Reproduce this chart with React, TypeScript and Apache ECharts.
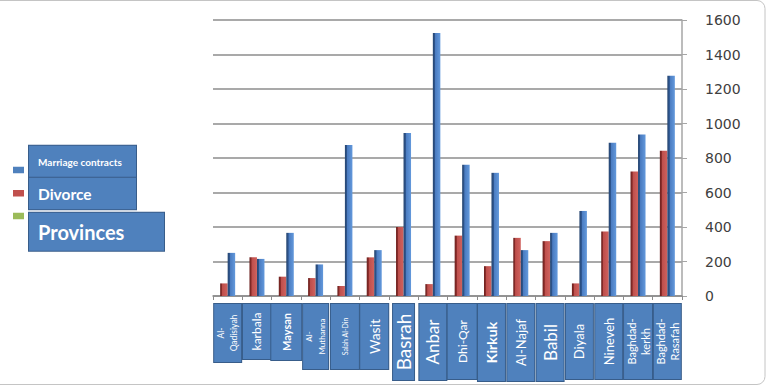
import React, { useEffect, useRef } from 'react';
import * as echarts from 'echarts';

// ---- data ----
const categories = [
  'Al-Qadisiyah', 'karbala', 'Maysan', 'Al-Muthanna', 'Salah Al-Din', 'Wasit', 'Basrah', 'Anbar',
  'Dhi-Qar', 'Kirkuk', 'Al-Najaf', 'Babil', 'Diyala', 'Nineveh', 'Baghdad-kerkh', 'Baghdad-Rasafah',
];
const marriageContracts = [250, 215, 366, 183, 876, 266, 945, 1525, 761, 714, 266, 366, 493, 888, 936, 1277];
const divorce = [73, 224, 112, 104, 58, 224, 400, 69, 350, 173, 337, 318, 73, 374, 722, 842];
const provinces = [0, 0, 0, 0, 0, 0, 0, 0, 0, 0, 0, 0, 0, 0, 0, 0];
const legendNames = ['Marriage contracts', 'Divorce', 'Provinces'];
const yMin = 0;
const yMax = 1600;
const yStep = 200;

// ---- styles ----
const FONT = 'Lato, "Noto Sans", sans-serif';
const BOX_FILL = '#4f81bd';
const BOX_BORDER = '#385d8a';
const GRID_COLOR = '#8c8c8c';

// per-category label box: len (along text), thick (across), font size, bold, wrap after hyphen
const labelBoxes = [
  { len: 58, thick: 27, size: 8.5, bold: false, wrap: true },
  { len: 55, thick: 28, size: 12, bold: false, wrap: false },
  { len: 56, thick: 30, size: 11, bold: true, wrap: false },
  { len: 65, thick: 25, size: 8, bold: false, wrap: true },
  { len: 65, thick: 28, size: 7, bold: false, wrap: false },
  { len: 65, thick: 28, size: 14, bold: false, wrap: false },
  { len: 76, thick: 21, size: 19, bold: false, wrap: false },
  { len: 76, thick: 27, size: 17, bold: false, wrap: false },
  { len: 75, thick: 29, size: 12, bold: false, wrap: false },
  { len: 77, thick: 27, size: 14, bold: true, wrap: false },
  { len: 77, thick: 27, size: 13, bold: false, wrap: false },
  { len: 77, thick: 27, size: 17, bold: false, wrap: false },
  { len: 75, thick: 27, size: 13, bold: false, wrap: false },
  { len: 75, thick: 27, size: 13, bold: false, wrap: false },
  { len: 75, thick: 28, size: 11, bold: false, wrap: true },
  { len: 75, thick: 27, size: 11, bold: false, wrap: true },
];

const legendLayout = [
  { top: 141.7, swatchY: 25, color: '#4f81bd', fontSize: 10, width: 98, lineHeight: 32, padding: [0, 0, 0, 9] },
  { top: 173.5, swatchY: 16.5, color: '#c0504d', fontSize: 15.5, width: 98, lineHeight: 31.6, padding: [0, 0, 0, 9] },
  { top: 211.7, swatchY: 1, color: '#9bbb59', fontSize: 20, width: 126, lineHeight: 24, padding: [0, 0, 14, 9] },
];

const iconPath = (y: number) =>
  `path://M0 0L0.01 0L0 0.01Z M11 40L10.99 40L11 39.99Z M0 ${y}L11 ${y}L11 ${y + 6.5}L0 ${y + 6.5}Z`;

const blueGrad = new echarts.graphic.LinearGradient(0, 0, 1, 0, [
  { offset: 0, color: '#26456f' },
  { offset: 0.28, color: '#2f5791' },
  { offset: 0.33, color: '#4a7bc0' },
  { offset: 1, color: '#6399dc' },
]);
const redGrad = new echarts.graphic.LinearGradient(0, 0, 1, 0, [
  { offset: 0, color: '#6a201e' },
  { offset: 0.25, color: '#8e2f2c' },
  { offset: 0.3, color: '#bd4e4b' },
  { offset: 1, color: '#d0625e' },
]);

export default function App() {
  const ref = useRef<HTMLDivElement>(null);
  useEffect(() => {
    if (!ref.current) return;
    const chart = echarts.init(ref.current, null, { renderer: 'svg' });

    const rich: Record<string, any> = {};
    labelBoxes.forEach((b, i) => {
      rich['b' + i] = {
        width: b.len,
        lineHeight: b.wrap ? b.thick / 2 : b.thick,
        fontSize: b.size,
        fontWeight: b.bold ? 'bold' : 'normal',
        fontFamily: FONT,
        color: '#ffffff',
        align: 'center',
      };
    });

    const legends = legendNames.map((name, i) => {
      const l = legendLayout[i];
      return {
        orient: 'vertical',
        left: 13,
        top: l.top,
        padding: 0,
        itemWidth: 11,
        itemHeight: 40,
        selectedMode: false,
        icon: iconPath(l.swatchY),
        itemStyle: { borderWidth: 0 },
        data: [{ name, itemStyle: { color: l.color } }],
        textStyle: {
          fontFamily: FONT,
          fontSize: l.fontSize,
          fontWeight: 'bold',
          color: '#ffffff',
          width: l.width,
          lineHeight: l.lineHeight,
          padding: l.padding,
          backgroundColor: BOX_FILL,
          borderColor: BOX_BORDER,
          borderWidth: 1,
        },
      };
    });

    chart.setOption({
      animation: false,
      backgroundColor: '#ffffff',
      textStyle: { fontFamily: FONT },
      graphic: [
        {
          type: 'rect',
          silent: true,
          z: -10,
          shape: { x: -12, y: 0.5, width: 777, height: 384, r: 8 },
          style: { fill: 'none', stroke: '#c4c4c4', lineWidth: 1 },
        },
      ],
      grid: { left: 213, right: 86, top: 20, bottom: 90, containLabel: false, outerBoundsMode: 'none' },
      legend: legends,
      xAxis: {
        type: 'category',
        data: categories,
        axisLine: { show: true, lineStyle: { color: GRID_COLOR, width: 1.5 } },
        axisTick: { show: true, length: 4, lineStyle: { color: GRID_COLOR } },
        splitLine: { show: false },
        axisLabel: {
          interval: 0,
          rotate: 90,
          margin: 8,
          color: '#ffffff',
          backgroundColor: BOX_FILL,
          borderColor: BOX_BORDER,
          borderWidth: 1,
          padding: 0,
          formatter: (value: string, index: number) => {
            const b = labelBoxes[index];
            const text = b && b.wrap ? value.replace('-', '-\n') : value;
            return `{b${index}|${text}}`;
          },
          rich,
        },
      },
      yAxis: {
        type: 'value',
        position: 'right',
        min: yMin,
        max: yMax,
        interval: yStep,
        axisLine: { show: true, lineStyle: { color: '#a6a6a6', width: 1.5 } },
        axisTick: { show: true, length: 5, lineStyle: { color: '#a6a6a6' } },
        axisLabel: {
          margin: 23,
          color: '#404040',
          fontSize: 14,
          fontFamily: '"DejaVu Sans", sans-serif',
          formatter: (v: number) => String(v),
        },
        splitLine: { show: true, lineStyle: { color: GRID_COLOR, width: 1.5 } },
      },
      series: [
        {
          name: 'Divorce',
          type: 'bar',
          stack: 'd',
          data: divorce,
          barWidth: 7.5,
          barGap: '0%',
          itemStyle: { color: redGrad },
        },
        {
          name: 'Provinces',
          type: 'bar',
          stack: 'd',
          data: provinces,
          barWidth: 7.5,
          barGap: '0%',
          itemStyle: { color: '#9bbb59' },
        },
        {
          name: 'Marriage contracts',
          type: 'bar',
          data: marriageContracts,
          barWidth: 7.5,
          barGap: '0%',
          itemStyle: { color: blueGrad },
        },
      ],
    });
    return () => chart.dispose();
  }, []);

  return (
    <div
      ref={ref}
      style={{ position: 'absolute', left: 0, top: 0, width: 768, height: 386 }}
    />
  );
}
